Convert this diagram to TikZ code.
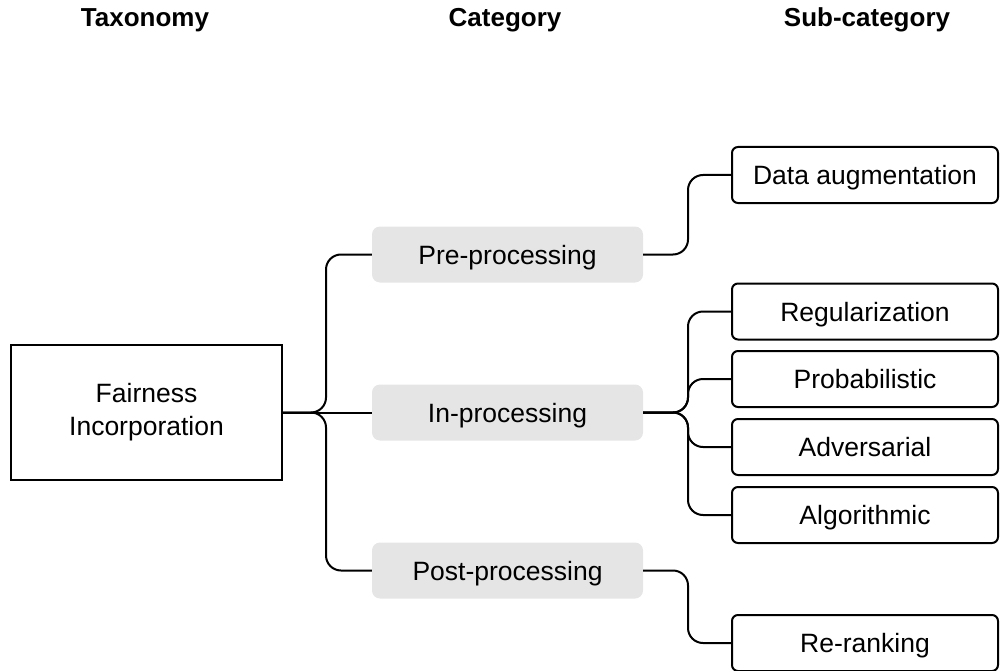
\documentclass[tikz,border=0pt]{standalone}
\usepackage{fontspec}
\setmainfont{Liberation Sans}
\begin{document}
\begin{tikzpicture}[x=1pt,y=-1pt,
  every node/.style={font=\fontsize{26.5}{33}\selectfont, text=black},
  hdr/.style={font=\fontsize{26}{30}\selectfont\bfseries, anchor=base},
  boxtext/.style={text height=24pt, text depth=5pt, inner ysep=0pt},
  rootbox/.style={draw=black, line width=2pt, minimum width=271pt, minimum height=135pt, align=center},
  catbox/.style={boxtext, fill=black!10, rounded corners=8pt, minimum width=271pt, minimum height=56pt},
  subbox/.style={boxtext, draw=black, line width=2pt, rounded corners=6pt, minimum width=266pt, minimum height=56pt},
  conn/.style={line width=2pt, rounded corners=15pt}]
\useasboundingbox (0,0) rectangle (1000,671);
\node[hdr] (h1) at (145,27) {Taxonomy};
\node[hdr] (h2) at (505,27) {Category};
\node[hdr] (h3) at (867,27) {Sub-category};
\node[rootbox] (fi) at (146.5,412.5) {Fairness\\Incorporation};
\node[catbox] (pre) at (507.5,254.5) {Pre-processing};
\node[catbox] (in) at (507.5,412.5) {In-processing};
\node[catbox] (post) at (507.5,570.5) {Post-processing};
\node[subbox] (da) at (865,175) {Data augmentation};
\node[subbox] (reg) at (865,311.5) {Regularization};
\node[subbox] (pro) at (865,379) {Probabilistic};
\node[subbox] (adv) at (865,447) {Adversarial};
\node[subbox] (alg) at (865,515) {Algorithmic};
\node[subbox] (rr) at (865,643) {Re-ranking};
\coordinate (jl) at (326,412.5);
\coordinate (jp) at (688,254.5);
\coordinate (jr) at (688,412.5);
\coordinate (jq) at (688,570.5);
\draw[conn] (fi.east) -- (in.west);
\draw[conn] (fi.east) -- (jl) |- (pre.west);
\draw[conn] (fi.east) -- (jl) |- (post.west);
\draw[conn] (pre.east) -- (jp) |- (da.west);
\draw[conn] (in.east) -- (jr) |- (reg.west);
\draw[conn] (in.east) -- (jr) |- (pro.west);
\draw[conn] (in.east) -- (jr) |- (adv.west);
\draw[conn] (in.east) -- (jr) |- (alg.west);
\draw[conn] (post.east) -- (jq) |- (rr.west);
\end{tikzpicture}
\end{document}
